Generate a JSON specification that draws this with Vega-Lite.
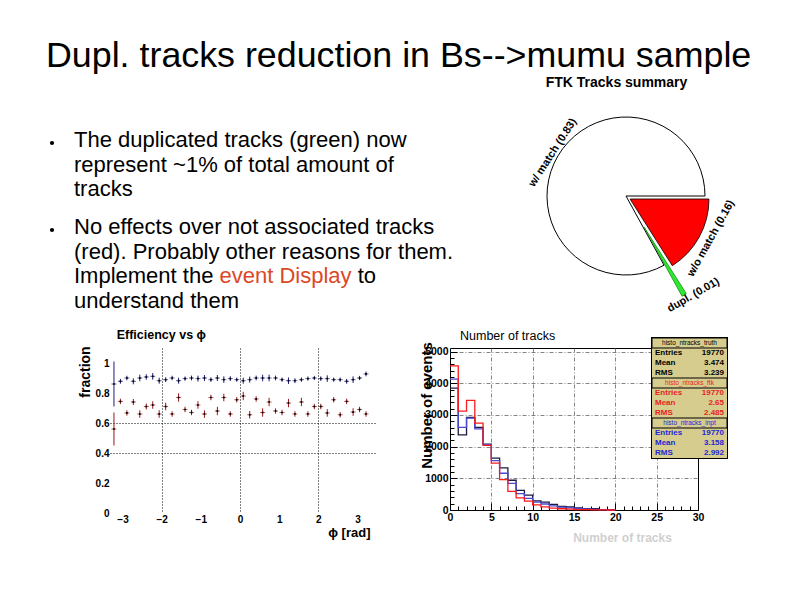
{
  "$schema": "https://vega.github.io/schema/vega-lite/v6.json",
  "autosize": {"type": "none"},
  "padding": {"left": 110, "top": 88, "right": 684, "bottom": 507},
  "background": "#ffffff",
  "config": {
    "view": {"stroke": null},
    "font": "Liberation Sans",
    "text": {"font": "Liberation Sans"},
    "title": {"font": "Liberation Sans"},
    "axis": {"labelFont": "Liberation Sans", "titleFont": "Liberation Sans"}
  },
  "datasets": {
    "bullets": [
      {"para": 1, "text": "The duplicated tracks (green) now\nrepresent ~1% of total amount of\ntracks"},
      {"para": 2, "text": "No effects over not associated tracks\n(red). Probably other reasons for them.\nImplement the\nunderstand them"}
    ],
    "segments": [
      {"para": 2, "seg": "event Display"},
      {"para": 2, "seg": "to"}
    ],
    "pie": [
      {"slice": "dupl.", "frac": 0.01, "label": "dupl. (0.01)"},
      {"slice": "w/ match", "frac": 0.83, "label": "w/ match (0.83)"},
      {"slice": "w/o match", "frac": 0.16, "label": "w/o match (0.16)"}
    ],
    "eff": [
      {"phi": -3.218, "s": "b", "v": 0.86, "e": 0.15},
      {"phi": -3.053, "s": "b", "v": 0.878, "e": 0.016},
      {"phi": -2.888, "s": "b", "v": 0.9, "e": 0.015},
      {"phi": -2.723, "s": "b", "v": 0.878, "e": 0.02},
      {"phi": -2.558, "s": "b", "v": 0.9, "e": 0.022},
      {"phi": -2.393, "s": "b", "v": 0.907, "e": 0.018},
      {"phi": -2.228, "s": "b", "v": 0.911, "e": 0.022},
      {"phi": -2.063, "s": "b", "v": 0.882, "e": 0.02},
      {"phi": -1.898, "s": "b", "v": 0.889, "e": 0.016},
      {"phi": -1.733, "s": "b", "v": 0.9, "e": 0.015},
      {"phi": -1.568, "s": "b", "v": 0.882, "e": 0.02},
      {"phi": -1.403, "s": "b", "v": 0.896, "e": 0.014},
      {"phi": -1.238, "s": "b", "v": 0.9, "e": 0.016},
      {"phi": -1.073, "s": "b", "v": 0.896, "e": 0.02},
      {"phi": -0.908, "s": "b", "v": 0.9, "e": 0.02},
      {"phi": -0.743, "s": "b", "v": 0.889, "e": 0.015},
      {"phi": -0.578, "s": "b", "v": 0.9, "e": 0.02},
      {"phi": -0.413, "s": "b", "v": 0.889, "e": 0.022},
      {"phi": -0.248, "s": "b", "v": 0.896, "e": 0.016},
      {"phi": -0.083, "s": "b", "v": 0.889, "e": 0.014},
      {"phi": 0.083, "s": "b", "v": 0.882, "e": 0.02},
      {"phi": 0.248, "s": "b", "v": 0.889, "e": 0.02},
      {"phi": 0.413, "s": "b", "v": 0.9, "e": 0.016},
      {"phi": 0.578, "s": "b", "v": 0.9, "e": 0.022},
      {"phi": 0.743, "s": "b", "v": 0.9, "e": 0.022},
      {"phi": 0.908, "s": "b", "v": 0.9, "e": 0.016},
      {"phi": 1.073, "s": "b", "v": 0.889, "e": 0.014},
      {"phi": 1.238, "s": "b", "v": 0.882, "e": 0.022},
      {"phi": 1.403, "s": "b", "v": 0.882, "e": 0.016},
      {"phi": 1.568, "s": "b", "v": 0.889, "e": 0.014},
      {"phi": 1.733, "s": "b", "v": 0.896, "e": 0.014},
      {"phi": 1.898, "s": "b", "v": 0.9, "e": 0.014},
      {"phi": 2.063, "s": "b", "v": 0.896, "e": 0.015},
      {"phi": 2.228, "s": "b", "v": 0.896, "e": 0.022},
      {"phi": 2.393, "s": "b", "v": 0.889, "e": 0.014},
      {"phi": 2.558, "s": "b", "v": 0.889, "e": 0.014},
      {"phi": 2.723, "s": "b", "v": 0.878, "e": 0.016},
      {"phi": 2.888, "s": "b", "v": 0.889, "e": 0.022},
      {"phi": 3.053, "s": "b", "v": 0.9, "e": 0.014},
      {"phi": 3.218, "s": "b", "v": 0.927, "e": 0.016},
      {"phi": -3.218, "s": "r", "v": 0.56, "e": 0.11},
      {"phi": -3.053, "s": "r", "v": 0.744, "e": 0.018},
      {"phi": -2.888, "s": "r", "v": 0.667, "e": 0.018},
      {"phi": -2.723, "s": "r", "v": 0.74, "e": 0.02},
      {"phi": -2.558, "s": "r", "v": 0.66, "e": 0.025},
      {"phi": -2.393, "s": "r", "v": 0.71, "e": 0.02},
      {"phi": -2.228, "s": "r", "v": 0.72, "e": 0.025},
      {"phi": -2.063, "s": "r", "v": 0.66, "e": 0.025},
      {"phi": -1.898, "s": "r", "v": 0.71, "e": 0.025},
      {"phi": -1.733, "s": "r", "v": 0.66, "e": 0.018},
      {"phi": -1.568, "s": "r", "v": 0.77, "e": 0.028},
      {"phi": -1.403, "s": "r", "v": 0.69, "e": 0.018},
      {"phi": -1.238, "s": "r", "v": 0.67, "e": 0.018},
      {"phi": -1.073, "s": "r", "v": 0.72, "e": 0.025},
      {"phi": -0.908, "s": "r", "v": 0.66, "e": 0.025},
      {"phi": -0.743, "s": "r", "v": 0.77, "e": 0.018},
      {"phi": -0.578, "s": "r", "v": 0.68, "e": 0.028},
      {"phi": -0.413, "s": "r", "v": 0.77, "e": 0.025},
      {"phi": -0.248, "s": "r", "v": 0.66, "e": 0.018},
      {"phi": -0.083, "s": "r", "v": 0.755, "e": 0.018},
      {"phi": 0.083, "s": "r", "v": 0.78, "e": 0.028},
      {"phi": 0.248, "s": "r", "v": 0.655, "e": 0.025},
      {"phi": 0.413, "s": "r", "v": 0.76, "e": 0.018},
      {"phi": 0.578, "s": "r", "v": 0.67, "e": 0.028},
      {"phi": 0.743, "s": "r", "v": 0.74, "e": 0.028},
      {"phi": 0.908, "s": "r", "v": 0.68, "e": 0.018},
      {"phi": 1.073, "s": "r", "v": 0.67, "e": 0.018},
      {"phi": 1.238, "s": "r", "v": 0.733, "e": 0.028},
      {"phi": 1.403, "s": "r", "v": 0.66, "e": 0.018},
      {"phi": 1.568, "s": "r", "v": 0.74, "e": 0.028},
      {"phi": 1.733, "s": "r", "v": 0.66, "e": 0.018},
      {"phi": 1.898, "s": "r", "v": 0.71, "e": 0.018},
      {"phi": 2.063, "s": "r", "v": 0.71, "e": 0.018},
      {"phi": 2.228, "s": "r", "v": 0.667, "e": 0.025},
      {"phi": 2.393, "s": "r", "v": 0.755, "e": 0.018},
      {"phi": 2.558, "s": "r", "v": 0.655, "e": 0.018},
      {"phi": 2.723, "s": "r", "v": 0.744, "e": 0.018},
      {"phi": 2.888, "s": "r", "v": 0.673, "e": 0.025},
      {"phi": 3.053, "s": "r", "v": 0.69, "e": 0.018},
      {"phi": 3.218, "s": "r", "v": 0.66, "e": 0.018}
    ],
    "hist": [
      {"h": "truth", "x": 0, "n": 3850}, {"h": "truth", "x": 1, "n": 2370}, {"h": "truth", "x": 2, "n": 2920},
      {"h": "truth", "x": 3, "n": 2610}, {"h": "truth", "x": 4, "n": 2080}, {"h": "truth", "x": 5, "n": 1640},
      {"h": "truth", "x": 6, "n": 1330}, {"h": "truth", "x": 7, "n": 940}, {"h": "truth", "x": 8, "n": 620},
      {"h": "truth", "x": 9, "n": 470}, {"h": "truth", "x": 10, "n": 290}, {"h": "truth", "x": 11, "n": 250},
      {"h": "truth", "x": 12, "n": 180}, {"h": "truth", "x": 13, "n": 110}, {"h": "truth", "x": 14, "n": 100},
      {"h": "truth", "x": 15, "n": 70}, {"h": "truth", "x": 16, "n": 45}, {"h": "truth", "x": 17, "n": 40},
      {"h": "truth", "x": 18, "n": 10}, {"h": "truth", "x": 19, "n": 5}, {"h": "truth", "x": 20, "n": 0},
      {"h": "inpt", "x": 0, "n": 4130}, {"h": "inpt", "x": 1, "n": 2610}, {"h": "inpt", "x": 2, "n": 2900},
      {"h": "inpt", "x": 3, "n": 2560}, {"h": "inpt", "x": 4, "n": 2060}, {"h": "inpt", "x": 5, "n": 1560},
      {"h": "inpt", "x": 6, "n": 1160}, {"h": "inpt", "x": 7, "n": 840}, {"h": "inpt", "x": 8, "n": 520},
      {"h": "inpt", "x": 9, "n": 370}, {"h": "inpt", "x": 10, "n": 250}, {"h": "inpt", "x": 11, "n": 190},
      {"h": "inpt", "x": 12, "n": 130}, {"h": "inpt", "x": 13, "n": 90}, {"h": "inpt", "x": 14, "n": 70},
      {"h": "inpt", "x": 15, "n": 50}, {"h": "inpt", "x": 16, "n": 35}, {"h": "inpt", "x": 17, "n": 20},
      {"h": "inpt", "x": 18, "n": 10}, {"h": "inpt", "x": 19, "n": 5}, {"h": "inpt", "x": 20, "n": 0},
      {"h": "ftk", "x": 0, "n": 4550}, {"h": "ftk", "x": 1, "n": 3120}, {"h": "ftk", "x": 2, "n": 3460},
      {"h": "ftk", "x": 3, "n": 2740}, {"h": "ftk", "x": 4, "n": 2040}, {"h": "ftk", "x": 5, "n": 1480},
      {"h": "ftk", "x": 6, "n": 960}, {"h": "ftk", "x": 7, "n": 590}, {"h": "ftk", "x": 8, "n": 380},
      {"h": "ftk", "x": 9, "n": 280}, {"h": "ftk", "x": 10, "n": 160}, {"h": "ftk", "x": 11, "n": 100},
      {"h": "ftk", "x": 12, "n": 60}, {"h": "ftk", "x": 13, "n": 40}, {"h": "ftk", "x": 14, "n": 25},
      {"h": "ftk", "x": 15, "n": 15}, {"h": "ftk", "x": 16, "n": 10}, {"h": "ftk", "x": 17, "n": 5},
      {"h": "ftk", "x": 18, "n": 3}, {"h": "ftk", "x": 19, "n": 0}, {"h": "ftk", "x": 20, "n": 0}
    ],
    "stats": [
      {"k": "t0", "box": "truth", "hdr": 1, "left": "histo_ntracks_truth", "right": ""},
      {"k": "t1", "box": "truth", "hdr": 0, "left": "Entries", "right": "19770"},
      {"k": "t2", "box": "truth", "hdr": 0, "left": "Mean", "right": "3.474"},
      {"k": "t3", "box": "truth", "hdr": 0, "left": "RMS", "right": "3.239"},
      {"k": "f0", "box": "ftk", "hdr": 1, "left": "histo_ntracks_ftk", "right": ""},
      {"k": "f1", "box": "ftk", "hdr": 0, "left": "Entries", "right": "19770"},
      {"k": "f2", "box": "ftk", "hdr": 0, "left": "Mean", "right": "2.65"},
      {"k": "f3", "box": "ftk", "hdr": 0, "left": "RMS", "right": "2.485"},
      {"k": "i0", "box": "inpt", "hdr": 1, "left": "histo_ntracks_inpt", "right": ""},
      {"k": "i1", "box": "inpt", "hdr": 0, "left": "Entries", "right": "19770"},
      {"k": "i2", "box": "inpt", "hdr": 0, "left": "Mean", "right": "3.158"},
      {"k": "i3", "box": "inpt", "hdr": 0, "left": "RMS", "right": "2.992"}
    ]
  },
  "columns": 2,
  "spacing": {"row": 0, "column": 38},
  "align": {"row": "each", "column": "none"},
  "bounds": "flush",
  "concat": [
    {
      "width": 302,
      "height": 260,
      "title": {"text": "Dupl. tracks reduction in Bs-->mumu sample", "anchor": "start", "frame": "group", "dx": -64, "offset": -15, "baseline": "alphabetic", "fontSize": 35.8, "fontWeight": "normal", "color": "#000000", "font": "Liberation Sans"},
      "encoding": {
        "x": {"value": 0},
        "y": {"field": "para", "type": "quantitative", "scale": {"domain": [0.32184, 3.31034], "reverse": true, "nice": false, "zero": false}, "axis": null}
      },
      "layer": [
        {"data": {"name": "bullets"}, "mark": {"type": "point", "shape": "circle", "filled": true, "size": 18, "color": "#000000", "opacity": 1, "xOffset": -58, "yOffset": -4}},
        {"data": {"name": "bullets"}, "mark": {"type": "text", "align": "left", "baseline": "alphabetic", "dx": -36, "fontSize": 22, "font": "Liberation Sans", "lineBreak": "\n", "lineHeight": 24.5, "color": "#000000"}, "encoding": {"text": {"field": "text", "type": "nominal"}}},
        {"data": {"name": "segments"}, "transform": [{"filter": "datum.seg === 'event Display'"}], "mark": {"type": "text", "align": "left", "baseline": "alphabetic", "dx": 109.5, "dy": 49, "fontSize": 22, "font": "Liberation Sans", "color": "#dc4826"}, "encoding": {"text": {"field": "seg", "type": "nominal"}}},
        {"data": {"name": "segments"}, "transform": [{"filter": "datum.seg === 'to'"}], "mark": {"type": "text", "align": "left", "baseline": "alphabetic", "dx": 247.7, "dy": 49, "fontSize": 22, "font": "Liberation Sans", "color": "#000000"}, "encoding": {"text": {"field": "seg", "type": "nominal"}}}
      ]
    },
    {
      "width": 352,
      "height": 216,
      "title": {"text": "FTK Tracks summary", "anchor": "middle", "frame": "group", "dx": -9.5, "offset": -13, "baseline": "alphabetic", "fontSize": 14, "fontWeight": "bold", "color": "#000000"},
      "data": {"name": "pie"},
      "encoding": {
        "theta": {"field": "frac", "type": "quantitative", "stack": true, "scale": {"domain": [0, 1], "range": [2.576105, 8.85929]}},
        "order": {"field": "slice", "type": "nominal", "sort": "ascending"}
      },
      "layer": [
        {"mark": {"type": "arc", "outerRadius": 79, "fill": "#ffffff", "stroke": "#000000", "strokeWidth": 1}, "encoding": {"opacity": {"condition": {"test": "datum.slice === 'w/ match'", "value": 1}, "value": 0}}},
        {"mark": {"type": "arc", "outerRadius": 79, "fill": "#ff0000", "stroke": "#000000", "strokeWidth": 0.8, "xOffset": 4, "yOffset": 3}, "encoding": {"opacity": {"condition": {"test": "datum.slice === 'w/o match'", "value": 1}, "value": 0}}},
        {"mark": {"type": "arc", "outerRadius": 79, "fill": "#2ee82e", "stroke": "#0f8f0f", "strokeWidth": 0.8, "xOffset": 18, "yOffset": 31}, "encoding": {"opacity": {"condition": {"test": "datum.slice === 'dupl.'", "value": 1}, "value": 0}}},
        {"mark": {"type": "text", "radius": 85, "angle": -57, "fontSize": 11, "fontWeight": "bold", "align": "center", "baseline": "middle", "color": "#000000"}, "encoding": {"text": {"condition": {"test": "datum.slice === 'w/ match'", "field": "label", "type": "nominal"}, "value": ""}}},
        {"mark": {"type": "text", "radius": 95, "angle": -61, "thetaOffset": -0.04, "fontSize": 11, "fontWeight": "bold", "align": "center", "baseline": "middle", "color": "#000000"}, "encoding": {"text": {"condition": {"test": "datum.slice === 'w/o match'", "field": "label", "type": "nominal"}, "value": ""}}},
        {"mark": {"type": "text", "radius": 120, "angle": -30, "thetaOffset": -0.063, "fontSize": 11, "fontWeight": "bold", "align": "center", "baseline": "middle", "color": "#000000"}, "encoding": {"text": {"condition": {"test": "datum.slice === 'dupl.'", "field": "label", "type": "nominal"}, "value": ""}}}
      ]
    },
    {
      "width": 265,
      "height": 165,
      "title": {"text": "Efficiency vs ϕ", "anchor": "start", "frame": "group", "dx": 6.7, "offset": -6, "baseline": "alphabetic", "fontSize": 12.5, "fontWeight": "bold", "color": "#000000"},
      "data": {"name": "eff"},
      "encoding": {
        "x": {"field": "phi", "type": "quantitative", "scale": {"domain": [-3.319, 3.447], "nice": false, "zero": false},
          "axis": {"values": [-3, -2, -1, 0, 1, 2, 3], "format": "d", "title": "ϕ [rad]", "titleX": 260, "titleY": 19, "titleAlign": "right", "titleBaseline": "middle", "titleFontSize": 13, "titleFontWeight": "bold", "titleColor": "#000000", "labelFontSize": 10, "labelFontWeight": "bold", "labelColor": "#000000", "labelPadding": 1, "labelFlush": false, "labelOverlap": false, "ticks": false, "domain": false, "grid": true, "gridDash": [1, 2], "gridColor": "#000000", "gridWidth": 1, "gridOpacity": {"condition": {"test": "datum.value % 2 === 0", "value": 1}, "value": 0}}},
        "y": {"field": "v", "type": "quantitative", "scale": {"domain": [0, 1.1], "nice": false, "zero": false},
          "axis": {"values": [0, 0.2, 0.4, 0.6, 0.8, 1], "format": "~g", "title": "fraction", "titleX": -24.5, "titleY": 23.5, "titleAngle": -90, "titleAlign": "center", "titleBaseline": "middle", "titleFontSize": 14, "titleFontWeight": "bold", "titleColor": "#000000", "labelFontSize": 10, "labelFontWeight": "bold", "labelColor": "#000000", "labelPadding": 1, "labelFlush": false, "labelOverlap": false, "ticks": false, "domain": false, "grid": true, "gridDash": [1, 2], "gridColor": "#000000", "gridWidth": 1, "gridOpacity": {"condition": {"test": "datum.value > 0.3 && datum.value < 0.7", "value": 1}, "value": 0}}}
      },
      "layer": [
        {"mark": {"type": "errorbar", "ticks": false, "thickness": 1}, "encoding": {"yError": {"field": "e"}, "color": {"field": "s", "type": "nominal", "scale": {"domain": ["b", "r"], "range": ["#1e1e7a", "#9a1818"]}, "legend": null}}},
        {"mark": {"type": "tick", "orient": "horizontal", "size": 5, "thickness": 1}, "encoding": {"color": {"field": "s", "type": "nominal", "scale": {"domain": ["b", "r"], "range": ["#1e1e7a", "#9a1818"]}, "legend": null}}},
        {"mark": {"type": "square", "size": 3, "color": "#000000", "opacity": 1}}
      ]
    },
    {
      "width": 248,
      "height": 162,
      "view": {"stroke": "#000000", "strokeWidth": 1},
      "title": {"text": "Number of tracks", "anchor": "start", "frame": "group", "dx": 10, "offset": -15, "baseline": "alphabetic", "fontSize": 12.5, "fontWeight": "normal", "color": "#000000"},
      "resolve": {"scale": {"x": "independent", "y": "independent", "color": "independent"}},
      "layer": [
        {
          "data": {"name": "hist"},
          "mark": {"type": "line", "interpolate": "step-after", "strokeWidth": 1.3},
          "encoding": {
            "x": {"field": "x", "type": "quantitative", "scale": {"domain": [0, 30], "nice": false, "zero": false},
              "axis": {"values": [0,1,2,3,4,5,6,7,8,9,10,11,12,13,14,15,16,17,18,19,20,21,22,23,24,25,26,27,28,29,30], "format": "d", "labelExpr": "datum.value % 5 === 0 ? datum.label : ''", "labelFontSize": 10.5, "labelFontWeight": "bold", "labelColor": "#000000", "labelPadding": 9, "labelFlush": false, "labelOverlap": false, "domain": false, "tickColor": "#000000", "tickWidth": 1, "tickSize": {"condition": {"test": "datum.value % 5 === 0", "value": -7}, "value": -4}, "grid": true, "gridDash": [4, 2, 1, 2], "gridColor": "#666666", "gridWidth": 0.8, "gridOpacity": {"condition": {"test": "datum.value % 5 === 0 && datum.value > 0 && datum.value < 30", "value": 1}, "value": 0}, "title": "Number of tracks", "titleColor": "#d0d0d0", "titleFontSize": 12, "titleFontWeight": "bold", "titleX": 172, "titleY": 27, "titleAlign": "center", "titleBaseline": "middle"}},
            "y": {"field": "n", "type": "quantitative", "scale": {"domain": [0, 5115], "nice": false},
              "axis": {"values": [0,200,400,600,800,1000,1200,1400,1600,1800,2000,2200,2400,2600,2800,3000,3200,3400,3600,3800,4000,4200,4400,4600,4800,5000], "format": "d", "labelExpr": "datum.value % 1000 === 0 ? datum.label : ''", "labelFontSize": 10.5, "labelFontWeight": "bold", "labelColor": "#000000", "labelPadding": 9, "labelFlush": false, "labelOverlap": false, "domain": false, "tickColor": "#000000", "tickWidth": 1, "tickSize": {"condition": {"test": "datum.value % 1000 === 0", "value": -7}, "value": -4}, "grid": true, "gridDash": [4, 2, 1, 2], "gridColor": "#666666", "gridWidth": 0.8, "gridOpacity": {"condition": {"test": "datum.value % 1000 === 0 && datum.value > 0", "value": 1}, "value": 0}, "title": "Number of events", "titleX": -24, "titleY": 57, "titleAngle": -90, "titleAlign": "center", "titleBaseline": "middle", "titleFontSize": 15, "titleFontWeight": "bold", "titleColor": "#000000"}},
            "color": {"field": "h", "type": "nominal", "scale": {"domain": ["truth", "inpt", "ftk"], "range": ["#1a1a40", "#4a4ad0", "#ff1a1a"]}, "legend": null}
          }
        },
        {
          "data": {"name": "stats"},
          "encoding": {
            "y": {"field": "k", "type": "nominal", "sort": null, "scale": {"domain": ["t0","t1","t2","t3","f0","f1","f2","f3","i0","i1","i2","i3"], "range": [-10, 110], "paddingInner": 0, "paddingOuter": 0}, "axis": null}
          },
          "layer": [
            {"mark": {"type": "rect", "fill": "#d6cc8e", "stroke": "#000000", "strokeWidth": 2}, "encoding": {"x": {"datum": 0, "type": "quantitative", "scale": {"domain": [0, 1], "range": [202, 277], "nice": false, "zero": false}, "axis": null}, "x2": {"datum": 1}}},
            {"mark": {"type": "rect", "fill": "#d6cc8e", "strokeWidth": 0}, "encoding": {"x": {"datum": 0, "type": "quantitative", "scale": {"domain": [0, 1], "range": [202, 277], "nice": false, "zero": false}, "axis": null}, "x2": {"datum": 1}}},
            {"transform": [{"filter": "datum.hdr === 1"}], "mark": {"type": "rect", "fill": "#d6cc8e", "stroke": "#000000", "strokeWidth": 1}, "encoding": {"x": {"datum": 0, "type": "quantitative", "scale": {"domain": [0, 1], "range": [202, 277], "nice": false, "zero": false}, "axis": null}, "x2": {"datum": 1}}},
            {"transform": [{"filter": "datum.hdr === 1"}], "mark": {"type": "text", "align": "center", "baseline": "middle", "fontSize": 6.5}, "encoding": {"x": {"datum": 0.5, "type": "quantitative", "scale": {"domain": [0, 1], "range": [202, 277], "nice": false, "zero": false}, "axis": null}, "text": {"field": "left", "type": "nominal"}, "color": {"field": "box", "type": "nominal", "scale": {"domain": ["truth", "ftk", "inpt"], "range": ["#000000", "#e8231c", "#2226d6"]}, "legend": null}}},
            {"transform": [{"filter": "datum.hdr === 0"}], "mark": {"type": "text", "align": "left", "baseline": "middle", "dx": 3, "fontSize": 8, "fontWeight": "bold"}, "encoding": {"x": {"datum": 0, "type": "quantitative", "scale": {"domain": [0, 1], "range": [202, 277], "nice": false, "zero": false}, "axis": null}, "text": {"field": "left", "type": "nominal"}, "color": {"field": "box", "type": "nominal", "scale": {"domain": ["truth", "ftk", "inpt"], "range": ["#000000", "#e8231c", "#2226d6"]}, "legend": null}}},
            {"transform": [{"filter": "datum.hdr === 0"}], "mark": {"type": "text", "align": "right", "baseline": "middle", "dx": -3, "fontSize": 8, "fontWeight": "bold"}, "encoding": {"x": {"datum": 1, "type": "quantitative", "scale": {"domain": [0, 1], "range": [202, 277], "nice": false, "zero": false}, "axis": null}, "text": {"field": "right", "type": "nominal"}, "color": {"field": "box", "type": "nominal", "scale": {"domain": ["truth", "ftk", "inpt"], "range": ["#000000", "#e8231c", "#2226d6"]}, "legend": null}}}
          ]
        }
      ]
    }
  ]
}
